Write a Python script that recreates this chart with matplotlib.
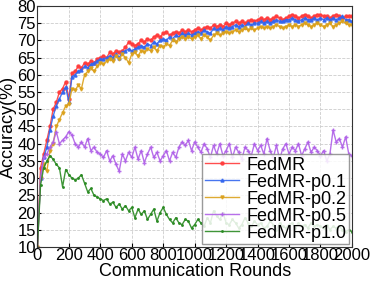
import numpy as np
import matplotlib
matplotlib.use("Agg")
import matplotlib.pyplot as plt

plt.rcParams['font.family'] = ['Liberation Sans', 'DejaVu Sans']

rounds = np.arange(0, 2001, 20)

fedmr = [10, 33, 37, 41, 45, 50, 52, 55, 56, 58,
         53, 60.5, 61, 62.5, 62, 63.5, 63, 64, 63.5, 64.5,
         65, 65.5, 65, 66.5, 66, 67, 66.5, 67, 68, 69.5,
         69, 68.5, 69, 70, 69.5, 70.5, 70, 71, 71.5, 71,
         72, 72.5, 71.5, 72, 72.5, 72, 73, 72.5, 73, 72.5,
         73, 73.5, 73, 73.5, 74, 73.5, 74.5, 74, 74.5, 74,
         75, 74.5, 75, 75.5, 75, 75.5, 75, 75.5, 76, 75.5,
         76, 76.5, 76, 76.5, 76, 76.5, 77, 76.5, 76, 76.5,
         77, 77.5, 77, 76.5, 77, 77.5, 77, 76.5, 77, 77.5,
         77.5, 77, 77, 76.5, 77, 77.5, 77, 76.5, 77, 77,
         77]

fedmr_p01 = [10, 30, 36, 39, 44, 48, 51, 53, 55, 56.5,
             52, 59.5, 60, 61, 61.5, 62.5, 62, 63, 63.5, 64,
             64.5, 64.5, 65, 65.5, 65, 66, 65, 66.5, 67, 67.5,
             67, 67.5, 68, 68.5, 68, 69, 68.5, 69.5, 69, 70,
             70.5, 70, 71, 70.5, 71.5, 71, 72, 71.5, 72, 71.5,
             72, 72.5, 72, 73, 72.5, 72, 73.5, 73, 73.5, 73,
             74, 73.5, 74, 74.5, 74, 74.5, 74, 75, 74.5, 75,
             75, 75.5, 75, 75.5, 75, 75.5, 76, 75.5, 75.5, 76,
             76, 76.5, 76, 75.5, 76, 76.5, 76, 76, 76.5, 76,
             76.5, 76, 76.5, 76, 76.5, 76, 76.5, 77, 76, 76,
             75.5]

fedmr_p02 = [10, 30, 34, 32, 38, 40, 45, 47, 49, 51,
             51.5, 56, 55.5, 57, 56, 60, 61, 62, 61, 62.5,
             63.5, 63, 64, 64.5, 64, 65.5, 64.5, 66, 65, 63.5,
             66, 66.5, 65.5, 67, 66.5, 67.5, 67, 68, 67, 68.5,
             68, 69, 68.5, 70, 69.5, 70.5, 71, 70.5, 71, 70.5,
             71, 71.5, 70.5, 71.5, 71, 70, 71.5, 72, 71.5, 72,
             72.5, 72, 72.5, 73, 72.5, 73, 73.5, 73, 73.5, 73,
             73.5, 74, 73.5, 74, 73.5, 74, 74.5, 74, 73.5, 74,
             74.5, 74, 74.5, 74, 74.5, 75, 74.5, 74, 74.5, 75,
             74.5, 74, 74.5, 75, 74, 74.5, 75, 75.5, 75, 74.5,
             74.5]

fedmr_p05 = [10, 30, 36, 37, 39, 40.5, 43.5, 40, 41, 42,
             43.5, 42.5, 40, 39, 40.5, 39, 41.5, 38, 39, 37.5,
             37, 36, 38, 35, 36.5, 34, 32, 37, 35, 37.5,
             36, 39, 35.5, 38, 34.5, 37, 39, 36, 37.5, 35,
             36.5, 38, 35, 37.5, 36, 39, 40.5, 39.5, 41, 38,
             40.5, 39, 37.5, 40, 38.5, 36, 39.5, 37, 40, 36.5,
             38, 40, 36, 39, 37.5, 35.5, 39, 38, 36.5, 40,
             38, 39.5, 37, 41.5, 38, 36, 39.5, 35.5, 38.5, 40,
             37, 39, 38, 40, 36.5, 38.5, 40.5, 37.5, 39, 38,
             36.5, 38, 35, 37, 44, 40.5, 41.5, 39, 42, 37,
             36.5]

fedmr_p10 = [10, 28, 33, 35, 36.5, 35.5, 34, 33, 27.5, 32.5,
             31, 30, 29.5, 30, 31, 28.5, 26, 27, 25, 24.5,
             24, 23.5, 24, 22.5, 23, 21.5, 22.5, 21, 22, 20.5,
             21.5, 18.5, 21, 19.5, 20.5, 18, 19.5, 21, 17.5, 20,
             21.5, 19.5, 18, 17, 18.5, 17, 16.5, 18, 17.5, 15.5,
             16.5, 18, 17, 16, 18.5, 17, 20.5, 19, 18, 20,
             17, 16.5, 18, 17, 15.5, 16.5, 18.5, 17, 16, 17.5,
             16.5, 17, 15.5, 16, 17.5, 16.5, 15, 17, 16, 15.5,
             16.5, 17, 15.5, 17, 16, 16.5, 15.5, 17, 16, 16.5,
             16, 15.5, 16.5, 15, 16, 15.5, 16, 15, 14.5, 15,
             14.5]

series = [
    ("FedMR", fedmr, "#ff3b3b", "o"),
    ("FedMR-p0.1", fedmr_p01, "#3366ee", "^"),
    ("FedMR-p0.2", fedmr_p02, "#dba11c", "v"),
    ("FedMR-p0.5", fedmr_p05, "#b060e8", "+"),
    ("FedMR-p1.0", fedmr_p10, "#2a8a22", "."),
]

fig = plt.figure(figsize=(3.74, 2.82), dpi=100)
ax = fig.add_axes([0.100, 0.124, 0.841, 0.855])

for label, vals, color, marker in series:
    ax.plot(rounds, vals, color=color, lw=1.0, marker=marker, ms=2.2,
            alpha=0.9, label=label)

ax.set_xlim(0, 2000)
ax.set_ylim(10, 80)
ax.set_xticks(np.arange(0, 2001, 200))
ax.set_yticks(np.arange(10, 81, 5))
ax.tick_params(labelsize=12, length=3, direction='in', pad=1)
ax.grid(True, ls='--', color='#cccccc', lw=0.6)
ax.set_xlabel("Communication Rounds", fontsize=13, labelpad=0)
ax.set_ylabel("Accuracy(%)", fontsize=13, labelpad=0)
for s in ax.spines.values():
    s.set_color('#333333')

leg = ax.legend(loc='lower right', fontsize=13, fancybox=False, framealpha=0.85,
                edgecolor='#888888', borderaxespad=0.15, handlelength=1.9,
                handletextpad=0.4, labelspacing=0.0, borderpad=0.15, numpoints=1)

fig.savefig("out.png", dpi=100)
